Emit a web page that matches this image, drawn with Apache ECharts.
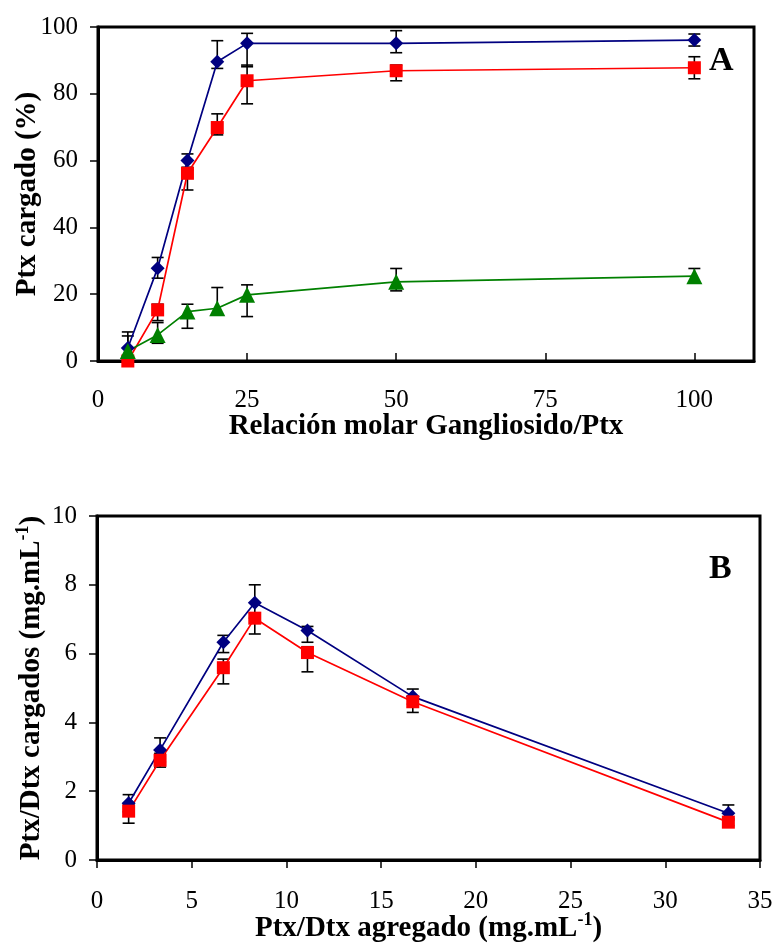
<!DOCTYPE html>
<html>
<head>
<meta charset="utf-8">
<script src="https://cdn.jsdelivr.net/npm/echarts@6/dist/echarts.min.js"></script>
<style>
  html, body { margin: 0; padding: 0; background: #fff; }
  #chart { width: 776px; height: 950px; }
</style>
</head>
<body>
<div id="chart"></div>
<script>
// panel A: relacion molar gangliosido/Ptx
var xA = [5, 10, 15, 20, 25, 50, 100]
var blueA = [3.9, 27.8, 60, 89.6, 95.1, 95.1, 96.1]
var blueAPlus = [4.8, 3.2, 2, 6.3, 3, 3.8, 1.8]
var blueAMinus = [3.9, 3, 2, 2, 7, 2.8, 1.8]
var redA = [0, 15.3, 56.2, 69.9, 83.9, 86.9, 87.8]
var redAPlus = [0.5, 1.7, 1, 4.1, 4.7, 1.7, 3.3]
var redAMinus = [0, 3.2, 5, 2.2, 6.9, 3, 3.3]
var greenA = [3, 7.8, 14.8, 15.8, 19.8, 23.7, 25.4]
var greenAPlus = [4.5, 3.7, 2.2, 6.2, 3, 4, 2.3]
var greenAMinus = [3, 2.5, 5, 2, 6.5, 2.7, 2]

// panel B: Ptx/Dtx agregado
var xB = [1.67, 3.33, 6.67, 8.33, 11.11, 16.67, 33.33]
var blueB = [1.65, 3.2, 6.33, 7.48, 6.67, 4.75, 1.36]
var blueBPlus = [0.25, 0.35, 0.2, 0.52, 0.12, 0.22, 0.24]
var blueBMinus = [0.25, 0.35, 0.3, 0.45, 0.34, 0.22, 0.2]
var redB = [1.42, 2.9, 5.59, 7.03, 6.03, 4.6, 1.1]
var redBPlus = [0.2, 0.2, 0.25, 0.15, 0.17, 0.1, 0.1]
var redBMinus = [0.35, 0.2, 0.47, 0.46, 0.56, 0.31, 0.1]

var serif = 'Liberation Serif'
var NAVY = '#000080'
var RED = '#ff0000'
var GREEN = '#008000'

function pairs (xs, ys) {
  return xs.map(function (x, i) { return [x, ys[i]] })
}

function errData (xs, ys, plus, minus) {
  return xs.map(function (x, i) { return [x, ys[i] - minus[i], ys[i] + plus[i]] })
}

function errSeries (gi, xs, ys, plus, minus) {
  return {
    type: 'custom',
    xAxisIndex: gi,
    yAxisIndex: gi,
    z: 1,
    encode: { x: 0, y: [1, 2] },
    data: errData(xs, ys, plus, minus),
    renderItem: function (params, api) {
      var lo = api.coord([api.value(0), api.value(1)])
      var hi = api.coord([api.value(0), api.value(2)])
      var w = 6
      var st = { stroke: '#000', lineWidth: 1.6 }
      return {
        type: 'group',
        children: [
          { type: 'line', shape: { x1: lo[0], y1: lo[1], x2: hi[0], y2: hi[1] }, style: st },
          { type: 'line', shape: { x1: hi[0] - w, y1: hi[1], x2: hi[0] + w, y2: hi[1] }, style: st },
          { type: 'line', shape: { x1: lo[0] - w, y1: lo[1], x2: lo[0] + w, y2: lo[1] }, style: st }
        ]
      }
    }
  }
}

function lineSeries (gi, xs, ys, color, symbol, size) {
  return {
    type: 'line',
    xAxisIndex: gi,
    yAxisIndex: gi,
    z: 3,
    data: pairs(xs, ys),
    symbol: symbol,
    symbolSize: size,
    showAllSymbol: true,
    lineStyle: { color: color, width: 1.7 },
    itemStyle: { color: color, borderWidth: 0 }
  }
}

var tickLabel = { color: '#000', fontFamily: serif, fontSize: 25 }
var axisTitle = { color: '#000', fontFamily: serif, fontSize: 29, fontWeight: 'bold' }
var supRich = {
  b: { color: '#000', fontFamily: serif, fontSize: 29, fontWeight: 'bold', lineHeight: 36 },
  s: { color: '#000', fontFamily: serif, fontSize: 18, fontWeight: 'bold', lineHeight: 20, verticalAlign: 'top' }
}

var myChart = echarts.init(document.getElementById('chart'))
var option = {
  animation: false,
  backgroundColor: '#fff',
  grid: [
    { left: 98, top: 27, width: 656, height: 334, outerBoundsMode: 'none', show: true, borderColor: '#000', borderWidth: 3 },
    { left: 97, top: 516, width: 663, height: 344, outerBoundsMode: 'none', show: true, borderColor: '#000', borderWidth: 3 }
  ],
  xAxis: [
    {
      gridIndex: 0,
      type: 'value',
      min: 0,
      max: 110,
      interval: 25,
      name: 'Relación molar Gangliosido/Ptx',
      nameLocation: 'middle',
      nameGap: 51,
      nameMoveOverlap: false,
      nameTextStyle: axisTitle,
      axisLine: { lineStyle: { color: '#000', width: 3 } },
      axisTick: { inside: true, length: 8, lineStyle: { color: '#000', width: 1.5 } },
      axisLabel: Object.assign({ margin: 27, showMaxLabel: false }, tickLabel),
      splitLine: { show: false }
    },
    {
      gridIndex: 1,
      type: 'value',
      min: 0,
      max: 35,
      interval: 5,
      name: '{b|Ptx/Dtx agregado (mg.mL}{s|-1}{b|)}',
      nameLocation: 'middle',
      nameGap: 51,
      nameMoveOverlap: false,
      nameTextStyle: { rich: supRich },
      axisLine: { lineStyle: { color: '#000', width: 3 } },
      axisTick: { length: 8, lineStyle: { color: '#000', width: 1.5 } },
      axisLabel: Object.assign({ margin: 29 }, tickLabel),
      splitLine: { show: false }
    }
  ],
  yAxis: [
    {
      gridIndex: 0,
      type: 'value',
      min: 0,
      max: 100,
      interval: 20,
      name: 'Ptx cargado (%)',
      nameLocation: 'middle',
      nameGap: 56,
      nameMoveOverlap: false,
      nameRotate: 90,
      nameTextStyle: axisTitle,
      axisLine: { lineStyle: { color: '#000', width: 3 } },
      axisTick: { length: 8, lineStyle: { color: '#000', width: 1.5 } },
      axisLabel: Object.assign({ margin: 20 }, tickLabel),
      splitLine: { show: false }
    },
    {
      gridIndex: 1,
      type: 'value',
      min: 0,
      max: 10,
      interval: 2,
      name: '{b|Ptx/Dtx cargados (mg.mL}{s|-1}{b|)}',
      nameLocation: 'middle',
      nameGap: 47,
      nameMoveOverlap: false,
      nameRotate: 90,
      nameTextStyle: { rich: supRich },
      axisLine: { lineStyle: { color: '#000', width: 3 } },
      axisTick: { length: 8, lineStyle: { color: '#000', width: 1.5 } },
      axisLabel: Object.assign({ margin: 20 }, tickLabel),
      splitLine: { show: false }
    }
  ],
  graphic: [
    { type: 'text', left: 709, top: 44, style: { text: 'A', fill: '#000', font: 'bold 34px "Liberation Serif"' } },
    { type: 'text', left: 709, top: 552, style: { text: 'B', fill: '#000', font: 'bold 34px "Liberation Serif"' } }
  ],
  series: [
    errSeries(0, xA, blueA, blueAPlus, blueAMinus),
    errSeries(0, xA, redA, redAPlus, redAMinus),
    errSeries(0, xA, greenA, greenAPlus, greenAMinus),
    lineSeries(0, xA, blueA, NAVY, 'diamond', 14),
    lineSeries(0, xA, redA, RED, 'rect', 13),
    lineSeries(0, xA, greenA, GREEN, 'triangle', 16),
    errSeries(1, xB, blueB, blueBPlus, blueBMinus),
    errSeries(1, xB, redB, redBPlus, redBMinus),
    lineSeries(1, xB, blueB, NAVY, 'diamond', 14),
    lineSeries(1, xB, redB, RED, 'rect', 13)
  ]
}
myChart.setOption(option)
</script>
</body>
</html>
